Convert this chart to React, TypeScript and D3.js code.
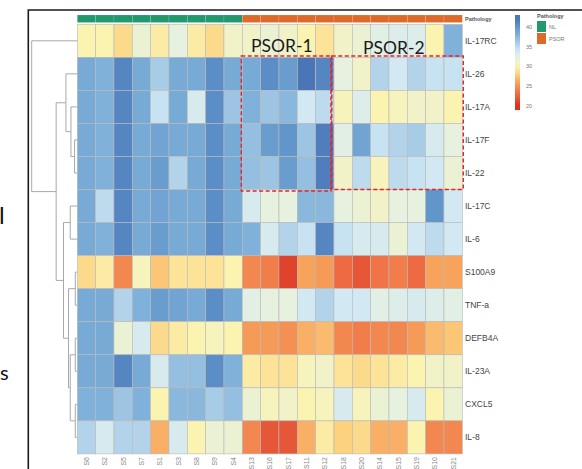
import React from 'react'
import * as d3 from 'd3'

// rows (genes) in dendrogram order
const genes = ['IL-17RC', 'IL-26', 'IL-17A', 'IL-17F', 'IL-22', 'IL-17C', 'IL-6', 'S100A9', 'TNF-a', 'DEFB4A', 'IL-23A', 'CXCL5', 'IL-8']

// sample columns
const nlSamples = ['S6', 'S2', 'S5', 'S7', 'S1', 'S3', 'S8', 'S9', 'S4']
const psorSamples = ['S13', 'S16', 'S17', 'S11', 'S12', 'S18', 'S20', 'S14', 'S15', 'S19', 'S10', 'S21']
const pathologyGroups = ['NL', 'PSOR']

// Ct-like values, one row per gene (NL x9, then PSOR x12)
const values = [
  [30, 30, 28.5, 31.5, 29.5, 32, 29.5, 28.5, 31, 31, 31.5, 31, 30, 29, 31, 31.5, 32.5, 33, 33, 30, 38],
  [38.5, 38, 41, 38.5, 36, 38.5, 38.5, 40.5, 38.5, 38.5, 40.5, 39.5, 42, 41, 32, 31, 35.5, 34, 35.5, 34.5, 34.5],
  [38.5, 38, 41, 38.5, 34.5, 38.5, 33.5, 40.5, 36.5, 38, 36.5, 37.5, 34, 35, 30.5, 33, 30, 30.5, 31, 31, 30],
  [38.5, 38, 41, 38.5, 39, 38.5, 38.5, 40.5, 38.5, 37, 39.5, 40, 36.5, 41.5, 32.5, 39, 34.5, 35.5, 36, 33.5, 32],
  [38.5, 38, 41, 38.5, 39.5, 35.5, 38.5, 40.5, 38.5, 37, 36.5, 39.5, 37, 41.5, 31, 35, 30.5, 35, 34.5, 34, 31.5],
  [38.5, 35, 41, 38.5, 39, 38.5, 38.5, 40.5, 38.5, 33.5, 32, 32, 37.5, 37.5, 32, 31.5, 31, 32, 32, 40, 34],
  [38.5, 38, 41, 38.5, 39.5, 38.5, 38.5, 40.5, 38.5, 38, 33.5, 35.5, 34.5, 41, 34.5, 33.5, 33.5, 31.5, 34, 35, 34],
  [28.5, 29.5, 24.5, 30.5, 27.5, 29, 29, 29, 30, 24.5, 24, 21, 26, 25.5, 23, 22, 23.5, 24, 23, 26, 26],
  [38.5, 38.5, 35.5, 38, 39.5, 39, 38.5, 40.5, 38.5, 32.5, 32, 32, 34, 35.5, 34, 34, 32.5, 33, 33.5, 33, 32.5],
  [38.5, 38.5, 31.5, 33.5, 28.5, 29.5, 30, 30.5, 30, 25.5, 25.5, 25, 26.5, 27, 24.5, 24, 24.5, 24.5, 25.5, 27, 27.5],
  [38.5, 38.5, 41, 38.5, 33.5, 37, 37, 40.5, 38, 29.5, 29, 29, 30.5, 31, 29, 28.5, 29, 29.5, 30, 31, 31],
  [38, 38, 36.5, 38, 30, 37.5, 37.5, 36, 37, 31.5, 30.5, 31, 30, 30.5, 33.5, 30.5, 31.5, 32, 33.5, 30, 31.5],
  [35.5, 33.5, 35.5, 35.5, 26.5, 33.5, 30, 31.5, 31.5, 24.5, 22, 22, 26.5, 29.5, 28, 28.5, 26.5, 26.5, 30, 24.5, 24.5],
]

// row dendrogram merges (child ids are genes or earlier merges)
const merges = [
  { id: 'n5', a: 'IL-17F', b: 'IL-22', h: 2.7 },
  { id: 'n4', a: 'IL-17A', b: 'n5', h: 6.3 },
  { id: 'n2', a: 'IL-26', b: 'n4', h: 11.3 },
  { id: 'n6', a: 'IL-17C', b: 'IL-6', h: 7 },
  { id: 'n8', a: 'S100A9', b: 'TNF-a', h: 2 },
  { id: 'n10', a: 'DEFB4A', b: 'IL-23A', h: 2 },
  { id: 'n11', a: 'CXCL5', b: 'IL-8', h: 2 },
  { id: 'n9', a: 'n10', b: 'n11', h: 7 },
  { id: 'n7', a: 'n8', b: 'n9', h: 8.7 },
  { id: 'n3', a: 'n6', b: 'n7', h: 13.7 },
  { id: 'n1', a: 'n2', b: 'n3', h: 21 },
  { id: 'root', a: 'IL-17RC', b: 'n1', h: 45.3 },
]

const legendTicks = [20, 25, 30, 35, 40]
const colorStops = [20, 23, 26, 28, 30, 32, 34, 36, 38, 40, 42]
const colorRange = ['#d7301f', '#ee6a43', '#f8a35c', '#fcd27f', '#fbf3b0', '#e6f1e0', '#d2e9f3', '#a7cce6', '#80b1da', '#6196ca', '#4a76b8']

const W = 582
const H = 469

export default function App() {
  const samples = [...nlSamples, ...psorSamples]
  const x = d3.scaleBand<string>().domain(samples).range([77.3, 462.3])
  const y = d3.scaleBand<string>().domain(genes).range([24.3, 453.9])
  const color = d3.scaleLinear<string>().domain(colorStops).range(colorRange).clamp(true)
  const dx = d3.scaleLinear().domain([0, 45.3]).range([77.3, 31.7])
  const pathColor = d3.scaleOrdinal<string, string>().domain(pathologyGroups).range(['#21996c', '#de6a29'])
  const legendY = d3.scaleLinear().domain([19, 43]).range([110, 15])

  // dendrogram layout
  const pos: Record<string, { x: number; y: number }> = {}
  genes.forEach(g => (pos[g] = { x: x.range()[0], y: (y(g) as number) + y.bandwidth() / 2 }))
  const links: string[] = []
  merges.forEach(m => {
    const A = pos[m.a]
    const B = pos[m.b]
    const nx = dx(m.h)
    pos[m.id] = { x: nx, y: (A.y + B.y) / 2 }
    links.push(`M${A.x},${A.y}H${nx}V${B.y}H${B.x}`)
  })

  const col = (i: number) => x(samples[i]) as number
  const psorStart = col(nlSamples.length)
  const splitX = col(nlSamples.length + 5) - 3
  const boxTop = (y('IL-26') as number) - 1.3
  const boxBottom = (y('IL-17C') as number) + 1.5

  const legendGrad = d3.range(0, 1.0001, 0.05).map(t => {
    const v = legendY.domain()[0] + t * (legendY.domain()[1] - legendY.domain()[0])
    return { offset: `${(1 - t) * 100}%`, color: color(v) }
  })

  return (
    <svg width={W} height={H} style={{ position: 'absolute', left: 0, top: 0, background: '#fff' }}
      fontFamily="'Liberation Sans', Arial, sans-serif">
      <defs>
        <linearGradient id="cbar" x1="0" y1="0" x2="0" y2="1">
          {legendGrad.slice().reverse().map((s, i) => (
            <stop key={i} offset={s.offset} stopColor={s.color} />
          ))}
        </linearGradient>
      </defs>

      {/* text fragments from neighbouring panel */}
      <text x={-1} y={224} fontSize={24} fontFamily="Lato, sans-serif" fill="#111">l</text>
      <text x={0} y={380} fontSize={20} fontFamily="Lato, sans-serif" fill="#111">s</text>

      {/* frame */}
      <path d={`M28.3,${H}V10H${W}`} fill="none" stroke="#1a1a1a" strokeWidth={1.6} />

      {/* pathology annotation bar */}
      {samples.map((s, i) => (
        <rect key={s} x={x(s)} y={15} width={x.bandwidth()} height={7.5}
          fill={pathColor(i < nlSamples.length ? 'NL' : 'PSOR')} stroke="#ffffff" strokeOpacity={0.25} strokeWidth={0.5} />
      ))}
      <text x={465} y={20.5} fontSize={5.5} fontWeight="bold" fill="#555">Pathology</text>

      {/* heatmap */}
      {genes.map((g, r) => samples.map((s, c) => (
        <rect key={g + s} x={x(s)} y={y(g)} width={x.bandwidth()} height={y.bandwidth()}
          fill={color(values[r][c])} stroke="#b9b9b9" strokeWidth={0.6} />
      )))}

      {/* row labels */}
      {genes.map(g => (
        <text key={g} x={465} y={(y(g) as number) + y.bandwidth() / 2 + 3} fontSize={8.5} fill="#444">{g}</text>
      ))}

      {/* column labels */}
      {samples.map(s => (
        <text key={s} transform={`translate(${(x(s) as number) + x.bandwidth() / 2 + 2.5},${457}) rotate(-90)`}
          textAnchor="end" fontSize={7} fill="#888">{s}</text>
      ))}

      {/* dendrogram */}
      {links.map((d, i) => (
        <path key={i} d={d} fill="none" stroke="#a8a8a8" strokeWidth={1} />
      ))}

      {/* PSOR sub-cluster boxes */}
      <rect x={psorStart - 1} y={boxTop} width={splitX - psorStart + 1} height={boxBottom - boxTop}
        fill="none" stroke="#e3242b" strokeWidth={1.4} strokeDasharray="4,2.5" />
      <rect x={splitX + 0.8} y={boxTop} width={x.range()[1] + 1 - splitX - 0.8} height={boxBottom - boxTop - 1.5}
        fill="none" stroke="#e3242b" strokeWidth={1.4} strokeDasharray="4,2.5" />
      <text x={251} y={51.5} fontSize={17.5} fontFamily="Lato, sans-serif" fill="#1a1a1a">PSOR-1</text>
      <text x={363} y={53.5} fontSize={17.5} fontFamily="Lato, sans-serif" fill="#1a1a1a">PSOR-2</text>

      {/* colour bar legend */}
      <rect x={515} y={legendY(43)} width={5} height={legendY(19) - legendY(43)} fill="url(#cbar)" />
      {legendTicks.map(t => (
        <text key={t} x={526} y={legendY(t) + 2} fontSize={5.5} fill="#777">{t}</text>
      ))}

      {/* pathology legend */}
      <text x={537} y={17.5} fontSize={5.5} fontWeight="bold" fill="#555">Pathology</text>
      {pathologyGroups.map((p, i) => (
        <g key={p}>
          <rect x={537} y={21 + i * 12} width={9} height={11} fill={pathColor(p)} />
          <text x={549} y={28.5 + i * 12} fontSize={5.5} fill="#777">{p}</text>
        </g>
      ))}
    </svg>
  )
}
